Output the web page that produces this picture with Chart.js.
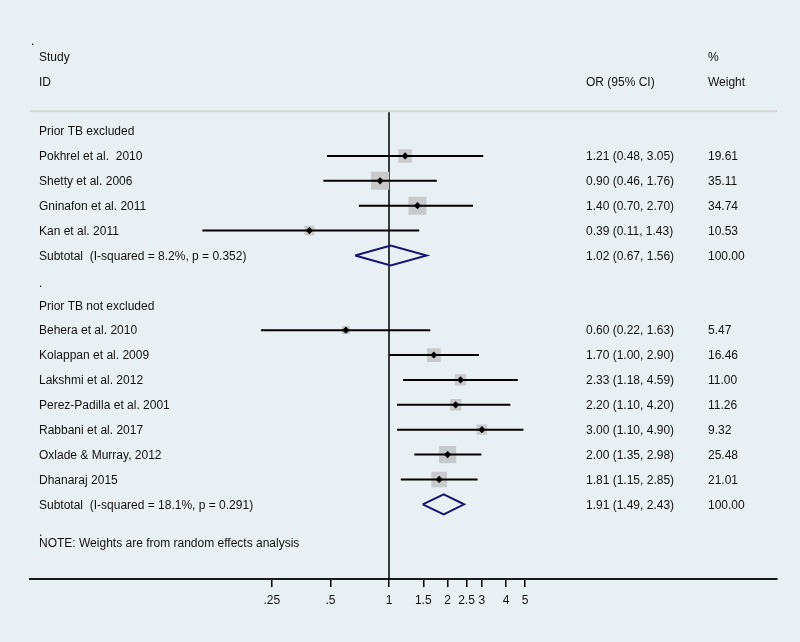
<!DOCTYPE html>
<html>
<head>
<meta charset="utf-8">
<script src="https://cdn.jsdelivr.net/npm/chart.js@4.4.1/dist/chart.umd.min.js"></script>
<style>
  html, body { margin: 0; padding: 0; background: #e9f0f3; }
  canvas { display: block; }
</style>
</head>
<body>
<canvas id="forest" width="800" height="642"></canvas>
<script>
// studies, top to bottom
const studies = [
  "Pokhrel et al.  2010", "Shetty et al. 2006", "Gninafon et al. 2011", "Kan et al. 2011",
  "Behera et al. 2010", "Kolappan et al. 2009", "Lakshmi et al. 2012", "Perez-Padilla et al. 2001",
  "Rabbani et al. 2017", "Oxlade & Murray, 2012", "Dhanaraj 2015"
];
const studyRows = [1, 2, 3, 4, 8, 9, 10, 11, 12, 13, 14];
const orValues = [1.21, 0.90, 1.40, 0.39, 0.60, 1.70, 2.33, 2.20, 3.00, 2.00, 1.81];
const lowerCI = [0.48, 0.46, 0.70, 0.11, 0.22, 1.00, 1.18, 1.10, 1.10, 1.35, 1.15];
const upperCI = [3.05, 1.76, 2.70, 1.43, 1.63, 2.90, 4.59, 4.20, 4.90, 2.98, 2.85];
const weights = [19.61, 35.11, 34.74, 10.53, 5.47, 16.46, 11.00, 11.26, 9.32, 25.48, 21.01];

// subgroup summaries
const groupLabels = ["Prior TB excluded", "Prior TB not excluded"];
const groupRows = [0, 7];
const subtotalLabels = ["Subtotal  (I-squared = 8.2%, p = 0.352)", "Subtotal  (I-squared = 18.1%, p = 0.291)"];
const subtotalRows = [5, 15];
const subtotalOR = [1.02, 1.91];
const subtotalLower = [0.67, 1.49];
const subtotalUpper = [1.56, 2.43];
const subtotalWeight = [100.00, 100.00];

// x axis ticks
const tickValues = [0.25, 0.5, 1, 1.5, 2, 2.5, 3, 4, 5];
const tickLabels = [".25", ".5", "1", "1.5", "2", "2.5", "3", "4", "5"];

const fmt = (v) => v.toFixed(2);
const FONT = "12px 'Liberation Sans', Arial, sans-serif";
const TEXT = "#111111";

// CI whiskers, broken between studies with null points
const ciData = [];
studies.forEach((s, i) => {
  ciData.push({ x: lowerCI[i], y: studyRows[i] });
  ciData.push({ x: upperCI[i], y: studyRows[i] });
  ciData.push({ x: orValues[i], y: null });
});

// subtotal diamonds
const diamondData = [];
subtotalOR.forEach((v, i) => {
  const r = subtotalRows[i];
  diamondData.push({ x: subtotalLower[i], y: r });
  diamondData.push({ x: v, y: r - 0.4 });
  diamondData.push({ x: subtotalUpper[i], y: r });
  diamondData.push({ x: v, y: r + 0.4 });
  diamondData.push({ x: subtotalLower[i], y: r });
  diamondData.push({ x: v, y: null });
});

// box side grows with sqrt of weight (second group drawn a bit larger, as in the original)
const boxRadius = weights.map((w, i) => ((studyRows[i] > 7 ? 3.4 : 3.05) * Math.sqrt(w)) / Math.SQRT2);

const textPlugin = {
  id: "forestText",
  beforeDraw(chart) {
    const ctx = chart.ctx;
    ctx.save();
    ctx.fillStyle = "#e9f0f3";
    ctx.fillRect(0, 0, chart.width, chart.height);
    ctx.restore();
  },
  afterDraw(chart) {
    const ctx = chart.ctx;
    const ys = chart.scales.y;
    const area = chart.chartArea;
    const py = (r) => ys.getPixelForValue(r) + 1;
    ctx.save();

    // header separator
    ctx.strokeStyle = "#d3d5d6";
    ctx.lineWidth = 2;
    ctx.beginPath();
    ctx.moveTo(area.left, ys.getPixelForValue(-0.8));
    ctx.lineTo(area.right, ys.getPixelForValue(-0.8));
    ctx.stroke();

    ctx.font = FONT;
    ctx.fillStyle = TEXT;
    ctx.textBaseline = "middle";
    ctx.textAlign = "left";
    const colName = 39, colOR = 586, colW = 708;

    ctx.fillText(".", 31, py(-3.75) + 3);
    ctx.fillText("Study", colName, py(-3));
    ctx.fillText("ID", colName, py(-2));
    ctx.fillText("OR (95% CI)", colOR, py(-2));
    ctx.fillText("%", colW, py(-3));
    ctx.fillText("Weight", colW, py(-2));

    groupLabels.forEach((g, i) => ctx.fillText(g, colName, py(groupRows[i])));
    studies.forEach((s, i) => {
      const y = py(studyRows[i]);
      ctx.fillText(s, colName, y);
      ctx.fillText(`${fmt(orValues[i])} (${fmt(lowerCI[i])}, ${fmt(upperCI[i])})`, colOR, y);
      ctx.fillText(fmt(weights[i]), colW, y);
    });
    subtotalLabels.forEach((s, i) => {
      const y = py(subtotalRows[i]);
      ctx.fillText(s, colName, y);
      ctx.fillText(`${fmt(subtotalOR[i])} (${fmt(subtotalLower[i])}, ${fmt(subtotalUpper[i])})`, colOR, y);
      ctx.fillText(fmt(subtotalWeight[i]), colW, y);
    });
    ctx.fillText(".", colName, py(6) + 2);
    ctx.fillText(".", colName, py(15.92) + 4);
    ctx.fillText("NOTE: Weights are from random effects analysis", colName, py(16.53));
    ctx.restore();
  }
};

new Chart(document.getElementById("forest"), {
  type: "scatter",
  data: {
    datasets: [
      {
        label: "OR",
        data: orValues.map((v, i) => ({ x: v, y: studyRows[i] })),
        pointStyle: "rectRot",
        pointRadius: 3.6,
        backgroundColor: "#000000",
        borderWidth: 0
      },
      {
        label: "Subtotal",
        data: diamondData,
        showLine: true,
        spanGaps: false,
        borderColor: "#16166f",
        borderWidth: 2,
        pointRadius: 0
      },
      {
        label: "95% CI",
        data: ciData,
        showLine: true,
        spanGaps: false,
        borderColor: "#000000",
        borderWidth: 2,
        pointRadius: 0
      },
      {
        label: "Weight",
        data: orValues.map((v, i) => ({ x: v, y: studyRows[i] })),
        pointStyle: "rect",
        pointRadius: boxRadius,
        backgroundColor: "#c7c9ca",
        borderWidth: 0
      },
      {
        label: "No effect",
        data: [{ x: 1, y: -0.8 }, { x: 1, y: 18 }],
        showLine: true,
        borderColor: "#000000",
        borderWidth: 1.5,
        pointRadius: 0
      }
    ]
  },
  options: {
    responsive: false,
    animation: false,
    layout: { padding: { left: 30, right: 23, top: 31.5, bottom: 0 } },
    plugins: {
      legend: { display: false },
      tooltip: { enabled: false }
    },
    scales: {
      x: {
        type: "logarithmic",
        min: 0.01432,
        max: 98.4,
        afterBuildTicks: (scale) => {
          scale.ticks = tickValues.map((v) => ({ value: v }));
        },
        afterFit: (scale) => {
          scale.height = 63;
        },
        ticks: {
          autoSkip: false,
          maxRotation: 0,
          padding: 6,
          color: TEXT,
          font: { family: "'Liberation Sans', Arial, sans-serif", size: 12 },
          callback: (v, i) => tickLabels[i]
        },
        grid: {
          drawOnChartArea: false,
          drawTicks: true,
          tickLength: 8,
          color: "#000000",
          lineWidth: 1.5
        },
        border: { display: true, color: "#1a1a1a", width: 2 }
      },
      y: {
        display: false,
        reverse: true,
        min: -4,
        max: 18
      }
    }
  },
  plugins: [textPlugin]
});
</script>
</body>
</html>
